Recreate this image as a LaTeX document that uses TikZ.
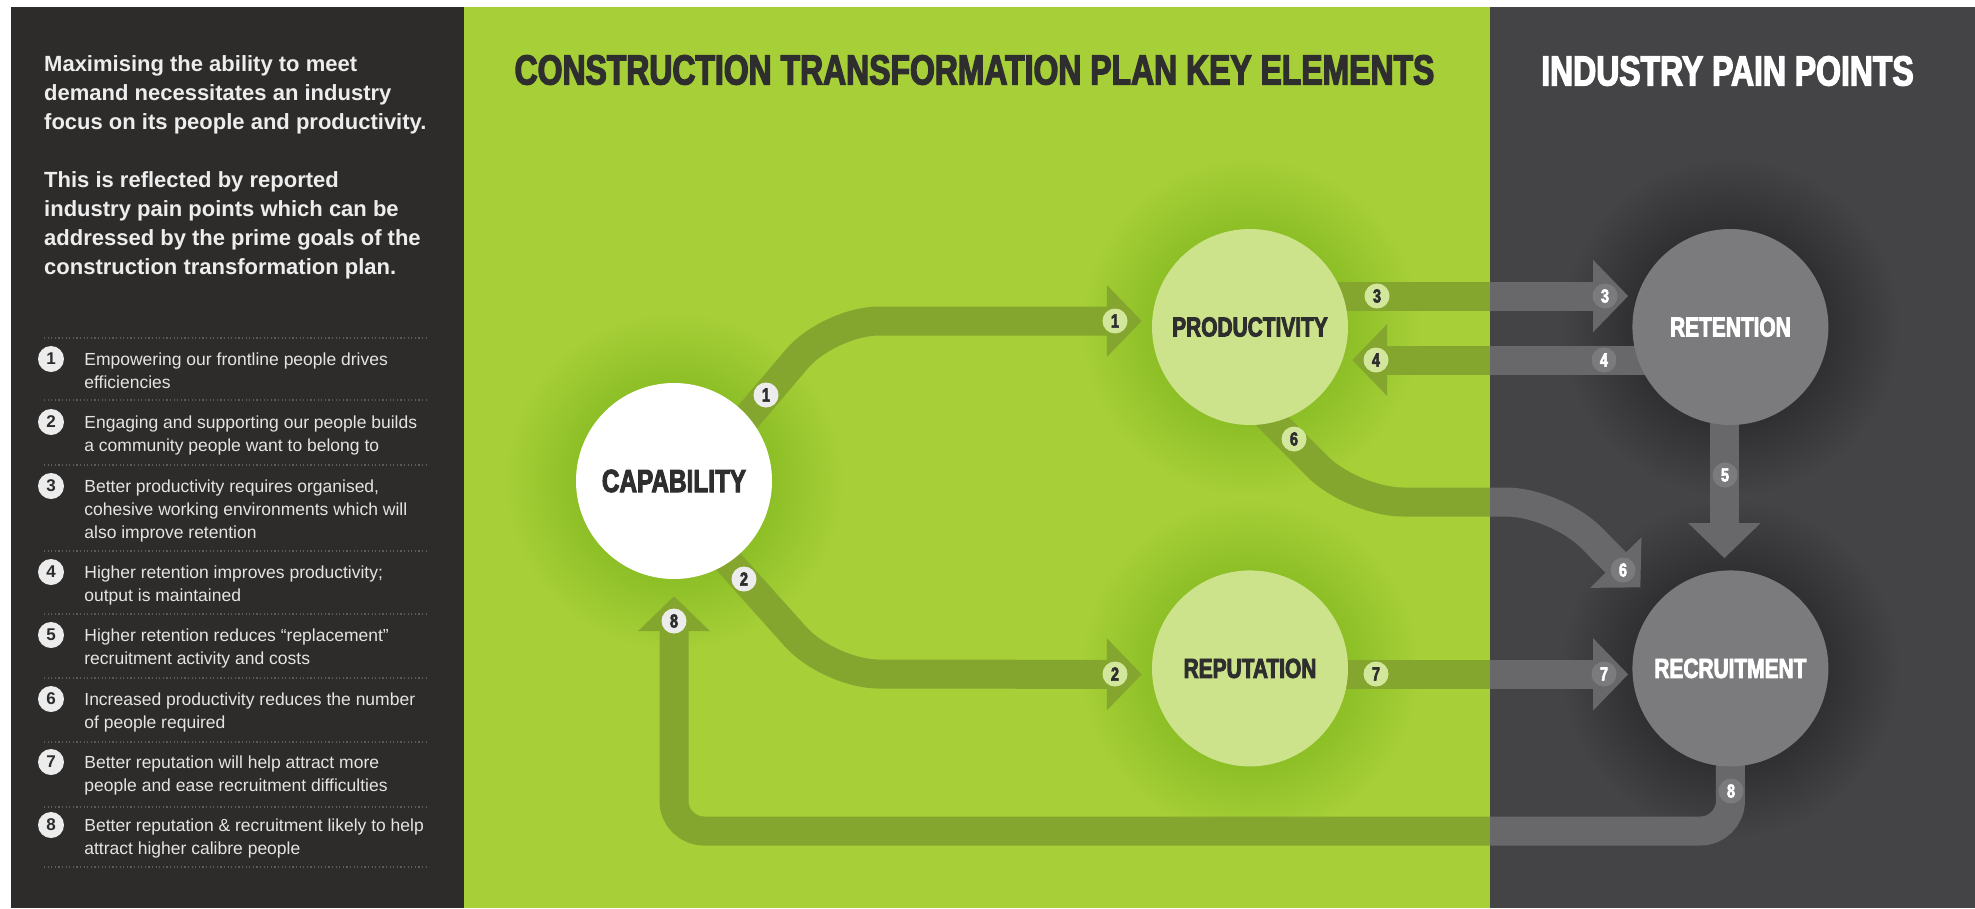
\documentclass[tikz,border=0pt]{standalone}
\usepackage{fontspec}
\setmainfont{Liberation Sans}
\newfontfamily\headfont{Liberation Sans}[FakeStretch=0.76,FakeBold=3]
\usetikzlibrary{arrows.meta,positioning}

\definecolor{sidedark}{HTML}{2D2C2A}
\definecolor{panelgreen}{HTML}{A7CF38}
\definecolor{paneldark}{HTML}{444446}
\definecolor{glowgreen}{HTML}{8DBF26}
\definecolor{shadowgray}{HTML}{303032}
\definecolor{keygreen}{HTML}{CCE38B}
\definecolor{paingray}{HTML}{7B7B7D}
\definecolor{flowolive}{HTML}{85A62E}
\definecolor{flowgray}{HTML}{68686B}
\definecolor{badgegreen}{HTML}{D2E79C}
\definecolor{badgewhite}{HTML}{ECECEC}
\definecolor{inkdark}{HTML}{2E2E2E}
\definecolor{sidetext}{HTML}{E4E4E4}
\definecolor{dotgray}{HTML}{5C5B59}

% the path fills the middle 50bp of a shading
\pgfdeclareradialshading{greenglow}{\pgfpointorigin}{color(0bp)=(glowgreen); color(14.5bp)=(glowgreen); color(25bp)=(panelgreen); color(50bp)=(panelgreen)}
\pgfdeclareradialshading{darkglow}{\pgfpointorigin}{color(0bp)=(shadowgray); color(14.5bp)=(shadowgray); color(25bp)=(paneldark); color(50bp)=(paneldark)}

\pgfdeclarelayer{back}
\pgfdeclarelayer{flow}
\pgfsetlayers{back,flow,main}

\tikzstyle{keynode}=[circle,minimum size=196pt,inner sep=0pt,fill=keygreen,text=inkdark,font=\headfont\bfseries\fontsize{27.5}{27.5}\selectfont]
\tikzstyle{painnode}=[keynode,fill=paingray,text=white]
\tikzstyle{title}=[inner sep=0pt,font=\headfont\bfseries\fontsize{42}{42}\selectfont]
\tikzstyle{flow}=[line width=29pt,-{Triangle[width=70pt,length=35pt]}]
\tikzstyle{badge}=[circle,minimum size=25pt,inner sep=0pt,font=\headfont\bfseries\fontsize{19}{19}\selectfont]
\tikzstyle{lbadge}=[badge,fill=badgegreen,text=inkdark]
\tikzstyle{wbadge}=[badge,fill=badgewhite,text=inkdark]
\tikzstyle{gbadge}=[badge,fill=paingray,text=white]
\tikzstyle{intro}=[anchor=north west,align=left,inner sep=0pt,text=white!93!black,font=\bfseries\fontsize{22}{29}\selectfont]
\tikzstyle{itemnum}=[circle,minimum size=26pt,inner sep=0pt,fill=badgewhite,text=sidedark,font=\bfseries\fontsize{17}{17}\selectfont]
\tikzstyle{itemtext}=[anchor=north west,align=left,inner sep=0pt,text=sidetext,font=\fontsize{17.5}{23}\selectfont]
\tikzstyle{sepline}=[dotgray,line width=1.2pt,dash pattern=on 1.2pt off 2.4pt]

% the eight flows, drawn once per panel colour
\newcommand\flowarrows[1]{%
  \draw[flow,draw=#1,rounded corners=50pt] ([shift={(26pt,8pt)}]cap.center) -- (829,321) -- ([xshift=-10pt,yshift=6pt]prod.west);
  \draw[flow,draw=#1,rounded corners=50pt] ([shift={(26pt,-49pt)}]cap.center) -- (829,674) -- ([xshift=-10pt,yshift=-6pt]rep.west);
  \draw[flow,draw=#1] ([yshift=31pt]prod.center) -- ([xshift=-4pt,yshift=31pt]ret.west);
  \draw[flow,draw=#1] ([yshift=-33pt]ret.center) -- ([xshift=4pt,yshift=-33pt]prod.east);
  \draw[flow,draw=#1] ([xshift=-6pt]ret.center) -- ([xshift=-6pt,yshift=12pt]rec.north);
  \draw[flow,draw=#1,rounded corners=50pt] ([shift={(-6pt,-66pt)}]prod.center) -- (1353,502) -- (1556,502) -- ([shift={(-90pt,81pt)}]rec.center);
  \draw[flow,draw=#1] ([yshift=-6pt]rep.center) -- ([xshift=-4pt,yshift=-6pt]rec.west);
  \draw[flow,draw=#1,rounded corners=30pt] (rec.center) -- (rec.center |- 0,831) -- (cap.center |- 0,831) -- ([yshift=-17pt]cap.south);
}

\begin{document}
\begin{tikzpicture}[x=1pt,y=-1pt]
  \useasboundingbox (0,0) rectangle (1975,908);

  \node[keynode,fill=white,font=\headfont\bfseries\fontsize{32}{32}\selectfont] (cap) at (674,481) {CAPABILITY};
  \node[keynode] (prod) at (1250,327) {PRODUCTIVITY};
  \node[keynode] (rep) [below=145pt of prod] {REPUTATION};
  \node[painnode] (ret) [right=284pt of prod] {RETENTION};
  \node[painnode] (rec) [below=145pt of ret] {RECRUITMENT};

  \begin{pgfonlayer}{back}
    \fill[white] (0,0) rectangle (1975,908);
    \fill[sidedark] (11,7) rectangle (464,908);
    \fill[panelgreen] (464,7) rectangle (1490,908);
    \fill[paneldark] (1490,7) rectangle (1975,908);
    \shade[shading=greenglow] (cap.center) circle (170pt);
    \shade[shading=greenglow] (prod.center) circle (170pt);
    \shade[shading=greenglow] (rep.center) circle (170pt);
    \shade[shading=darkglow] (ret.center) circle (170pt);
    \shade[shading=darkglow] (rec.center) circle (170pt);
  \end{pgfonlayer}

  \begin{pgfonlayer}{flow}
    \begin{scope}
      \clip (464,0) rectangle (1490,908);
      \flowarrows{flowolive}
    \end{scope}
    \begin{scope}
      \clip (1490,0) rectangle (1975,908);
      \flowarrows{flowgray}
    \end{scope}
  \end{pgfonlayer}

  \node[title,text=inkdark] (keytitle) at (974.5,70) {CONSTRUCTION TRANSFORMATION PLAN KEY ELEMENTS};
  \node[title,text=white] (paintitle) at (1727.5,71) {INDUSTRY PAIN POINTS};

  \node[wbadge] (b1s) at (766,395) {1};
  \node[lbadge] (b1e) at (1115,321) {1};
  \node[wbadge] (b2s) at (744,579) {2};
  \node[lbadge] (b2e) at (1115,674) {2};
  \node[lbadge] (b3s) at (1377,296) {3};
  \node[gbadge] (b3e) at (1605,296) {3};
  \node[gbadge] (b4s) at (1604,360) {4};
  \node[lbadge] (b4e) at (1376,360) {4};
  \node[gbadge] (b5) at (1725,475) {5};
  \node[lbadge] (b6s) at (1294,439) {6};
  \node[gbadge] (b6e) at (1623,570) {6};
  \node[lbadge] (b7s) at (1376,674) {7};
  \node[gbadge] (b7e) at (1604,674) {7};
  \node[gbadge] (b8s) at (1731,791) {8};
  \node[wbadge] (b8e) at (674,621) {8};

  \node[intro] (lead) at (44,51) {\strut Maximising the ability to meet\\
    demand necessitates an industry\\
    focus on its people and productivity.\\[29pt]
    This is reflected by reported\\
    industry pain points which can be\\
    addressed by the prime goals of the\\
    construction transformation plan.};

  \draw[sepline] (44,338) -- (426,338);
  \draw[sepline] (44,400) -- (426,400);
  \draw[sepline] (44,465) -- (426,465);
  \draw[sepline] (44,551) -- (426,551);
  \draw[sepline] (44,614) -- (426,614);
  \draw[sepline] (44,678) -- (426,678);
  \draw[sepline] (44,742) -- (426,742);
  \draw[sepline] (44,807) -- (426,807);
  \draw[sepline] (44,867) -- (426,867);

  \node[itemnum] (n1) at (51,359) {1};
  \node[itemtext] (t1) at ([xshift=20pt,yshift=9.8pt]n1.east) {\strut Empowering our frontline people drives\\efficiencies};
  \node[itemnum] (n2) at (51,422) {2};
  \node[itemtext] (t2) at ([xshift=20pt,yshift=9.8pt]n2.east) {\strut Engaging and supporting our people builds\\a community people want to belong to};
  \node[itemnum] (n3) at (51,486) {3};
  \node[itemtext] (t3) at ([xshift=20pt,yshift=9.8pt]n3.east) {\strut Better productivity requires organised,\\cohesive working environments which will\\also improve retention};
  \node[itemnum] (n4) at (51,572) {4};
  \node[itemtext] (t4) at ([xshift=20pt,yshift=9.8pt]n4.east) {\strut Higher retention improves productivity;\\output is maintained};
  \node[itemnum] (n5) at (51,635) {5};
  \node[itemtext] (t5) at ([xshift=20pt,yshift=9.8pt]n5.east) {\strut Higher retention reduces “replacement”\\recruitment activity and costs};
  \node[itemnum] (n6) at (51,699) {6};
  \node[itemtext] (t6) at ([xshift=20pt,yshift=9.8pt]n6.east) {\strut Increased productivity reduces the number\\of people required};
  \node[itemnum] (n7) at (51,762) {7};
  \node[itemtext] (t7) at ([xshift=20pt,yshift=9.8pt]n7.east) {\strut Better reputation will help attract more\\people and ease recruitment difficulties};
  \node[itemnum] (n8) at (51,825) {8};
  \node[itemtext] (t8) at ([xshift=20pt,yshift=9.8pt]n8.east) {\strut Better reputation \& recruitment likely to help\\attract higher calibre people};
\end{tikzpicture}
\end{document}
